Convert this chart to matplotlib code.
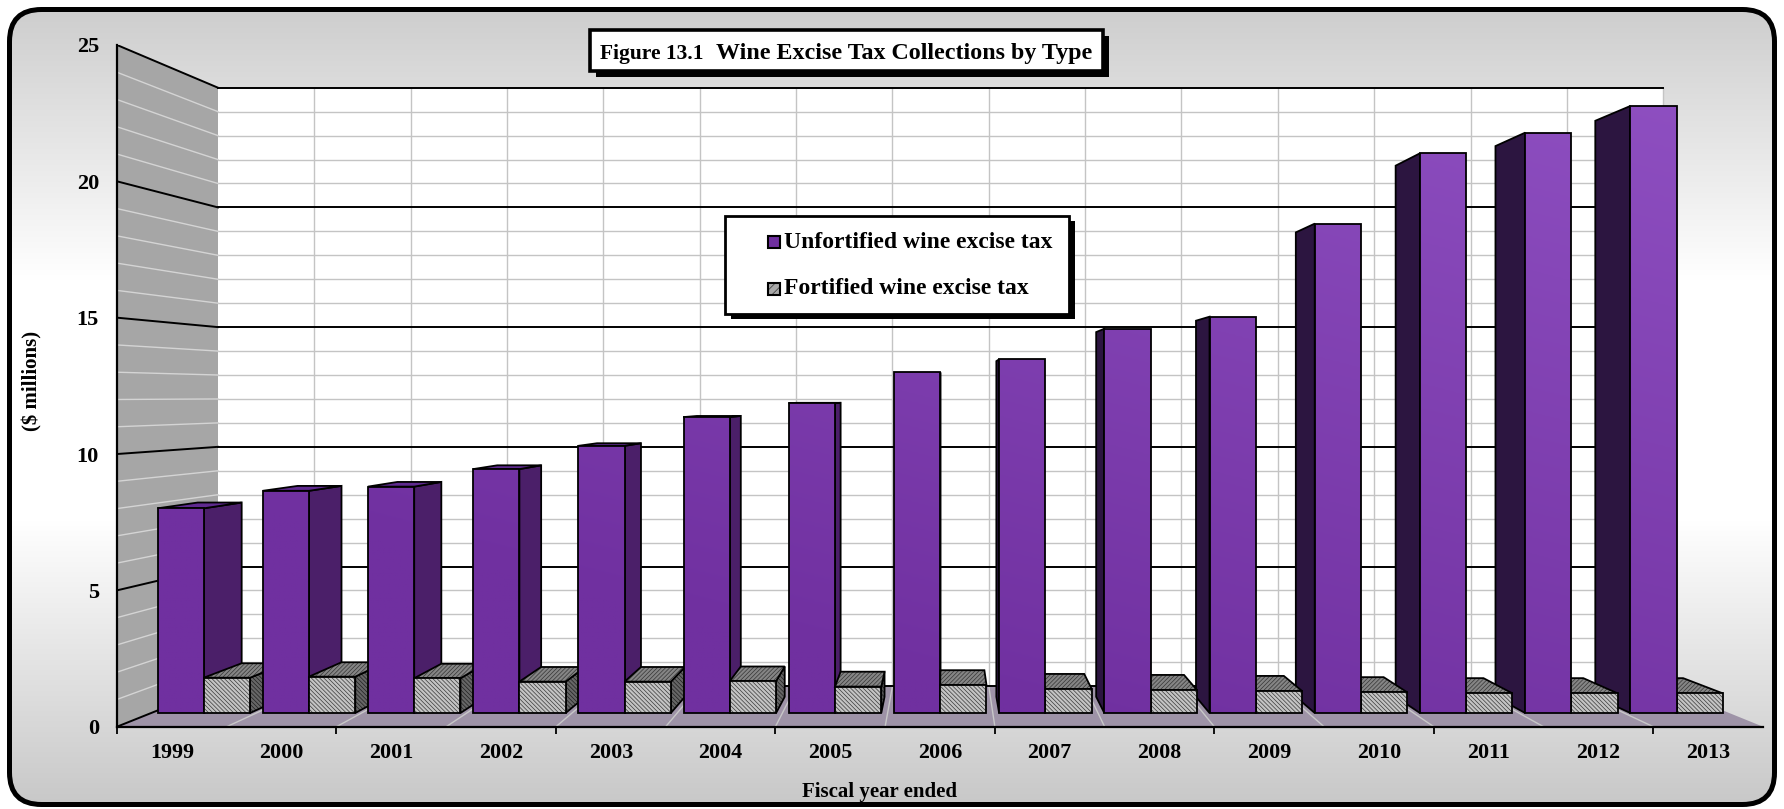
import numpy as np
import matplotlib.pyplot as plt
from matplotlib.patches import Polygon, Rectangle, FancyBboxPatch
from matplotlib.colors import to_rgb

# values ($ millions)
years = ['1999', '2000', '2001', '2002', '2003', '2004', '2005', '2006',
         '2007', '2008', '2009', '2010', '2011', '2012', '2013']
unfortified = [7.83, 8.50, 8.66, 9.33, 10.22, 11.32, 11.85, 13.04,
               13.53, 14.70, 15.16, 18.72, 21.41, 22.20, 23.22]
fortified = [1.35, 1.39, 1.33, 1.20, 1.20, 1.22, 1.01, 1.07,
             0.92, 0.88, 0.84, 0.79, 0.75, 0.75, 0.75]
series_names = ['Unfortified wine excise tax', 'Fortified wine excise tax']

# fake 3-D: points are pulled toward a vanishing point by a depth scale s
VPX, VPY = 7.545, 12.16
S_WALL, S_FRONT, S_BACK = 0.878, 0.9587, 0.9097
BAR_W = 0.44
YMAX = 25

PURPLE_LO = np.array(to_rgb('#7030A0'))
PURPLE_HI = np.array(to_rgb('#9152C4'))


def proj(x, y, s):
    return (VPX + s * (x - VPX), VPY + s * (y - VPY))


def quad(pts):
    return [proj(x, y, s) for x, y, s in pts]


plt.rcParams['font.family'] = ['Liberation Serif', 'DejaVu Serif']
plt.rcParams['font.weight'] = 'bold'
plt.rcParams['axes.labelweight'] = 'bold'
plt.rcParams['hatch.linewidth'] = 0.5

fig = plt.figure(figsize=(17.84, 8.09), dpi=100)

# ---- background panel (pixel coordinates) ----
bg = fig.add_axes([0, 0, 1, 1])
bg.set_xlim(0, 1784)
bg.set_ylim(809, 0)
bg.axis('off')

ys = np.arange(809)
stops_y = [0, 280, 520, 809]
stops_v = [0.80, 1.0, 1.0, 0.78]
shade = np.interp(ys, stops_y, stops_v)
grad = np.repeat(shade[:, None, None], 3, axis=2)
clip_box = FancyBboxPatch((9.5, 9.5), 1765, 795,
                          boxstyle='round,pad=0,rounding_size=32',
                          fc='none', ec='none')
bg.add_patch(clip_box)
im = bg.imshow(grad, extent=[0, 1784, 809, 0], aspect='auto')
im.set_clip_path(clip_box)
bg.add_patch(FancyBboxPatch((9.5, 9.5), 1765, 795,
                            boxstyle='round,pad=0,rounding_size=32',
                            fc='none', ec='black', lw=3.6, zorder=5))

# ---- plot axes: front plane in data units ----
ax = fig.add_axes([117 / 1784, (809 - 726.7) / 809, 1646 / 1784, 681.7 / 809])
ax.set_zorder(2)
ax.patch.set_visible(False)
n = len(years)

# walls and floor
ax.add_patch(Polygon(quad([(0, 0, 1), (0, YMAX, 1), (0, YMAX, S_WALL), (0, 0, S_WALL)]),
                     fc='#A6A6A6', ec='none', zorder=1))
ax.add_patch(Polygon(quad([(0, 0, S_WALL), (n, 0, S_WALL), (n, YMAX, S_WALL), (0, YMAX, S_WALL)]),
                     fc='white', ec='none', zorder=1))
ax.add_patch(Polygon(quad([(0, 0, 1), (n, 0, 1), (n, 0, S_WALL), (0, 0, S_WALL)]),
                     fc='#9E93A7', ec='none', zorder=1))

for k in range(1, n + 1):
    (x0, y0), (x1, y1) = proj(k, 0, S_WALL), proj(k, YMAX, S_WALL)
    ax.plot([x0, x1], [y0, y1], color='#C4C4C4', lw=1.0, zorder=2)
for k in range(1, n):
    (x0, y0), (x1, y1) = proj(k, 0, 1), proj(k, 0, S_WALL)
    ax.plot([x0, x1], [y0, y1], color='#C8C8C8', lw=1.0, zorder=2)
for v in range(YMAX + 1):
    major = v % 5 == 0
    col = 'black' if major else '#C4C4C4'
    lw = 1.4 if major else 1.0
    zo = 3 if major else 2
    (x0, y0), (x1, y1) = proj(0, v, S_WALL), proj(n, v, S_WALL)
    ax.plot([x0, x1], [y0, y1], color=col, lw=lw, zorder=zo)
    (x0, y0), (x1, y1) = proj(0, v, 1), proj(0, v, S_WALL)
    ax.plot([x0, x1], [y0, y1], color='black' if major else '#D4D4D4', lw=lw, zorder=zo)

# gradient for purple fronts
gx, gy = np.meshgrid(np.linspace(0, n, 300), np.linspace(0, YMAX, 300))
t = np.clip(gx / n * 0.5 + gy / YMAX * 0.8 - 0.3, 0, 1)
purple_img = PURPLE_LO + t[..., None] * (PURPLE_HI - PURPLE_LO)

bars = []
for i in range(n):
    c = i + 0.5
    bars.append((c - BAR_W, c, unfortified[i], 'u'))
    bars.append((c, c + BAR_W, fortified[i], 'f'))
bars.sort(key=lambda b: -abs((b[0] + b[1]) / 2 - VPX))


def hatched(pts, fc, hatch, z, hc='black'):
    ax.add_patch(Polygon(pts, fc=fc, ec=hc, lw=0, hatch=hatch, zorder=z))
    ax.add_patch(Polygon(pts, fill=False, ec='black', lw=1.3, zorder=z + 0.1))


z = 10
for x0, x1, v, kind in bars:
    side = None
    if x1 <= VPX:
        side = x1
        side_col = '#4B1F69'
    elif x0 >= VPX:
        side = x0
        side_col = '#2C1540'
    if side is not None:
        pts = quad([(side, 0, S_FRONT), (side, v, S_FRONT), (side, v, S_BACK), (side, 0, S_BACK)])
        if kind == 'u':
            ax.add_patch(Polygon(pts, fc=side_col, ec='black', lw=1.3, zorder=z))
        else:
            hatched(pts, '#666666', '\\' * 8, z, hc='#202020')
    if v < VPY:
        pts = quad([(x0, v, S_FRONT), (x1, v, S_FRONT), (x1, v, S_BACK), (x0, v, S_BACK)])
        if kind == 'u':
            ax.add_patch(Polygon(pts, fc='#5F2A8F', ec='black', lw=1.3, zorder=z + 0.5))
        else:
            hatched(pts, '#858585', '/' * 8, z + 0.5, hc='#353535')
    pts = quad([(x0, 0, S_FRONT), (x1, 0, S_FRONT), (x1, v, S_FRONT), (x0, v, S_FRONT)])
    if kind == 'u':
        face = Polygon(pts, fill=False, ec='black', lw=1.3, zorder=z + 1.1)
        ax.add_patch(face)
        img = ax.imshow(purple_img, extent=[0, n, 0, YMAX], origin='lower',
                        aspect='auto', zorder=z + 1)
        img.set_clip_path(face)
    else:
        hatched(pts, '#C4C4C4', '\\' * 8, z + 1, hc='#3A3A3A')
    z += 3

ax.set_xlim(0, n)
ax.set_ylim(0, YMAX)

# axes, ticks, labels
for side in ['top', 'right']:
    ax.spines[side].set_visible(False)
for side in ['left', 'bottom']:
    ax.spines[side].set_linewidth(1.6)
    ax.spines[side].set_zorder(200)
ax.set_yticks(range(0, YMAX + 1, 5))
ax.tick_params(axis='y', length=0, pad=13, labelsize=16)
ax.set_xticks(np.arange(0, n, 2))
ax.set_xticks(np.arange(n) + 0.5, minor=True)
ax.set_xticklabels(years, minor=True)
ax.tick_params(axis='x', which='major', length=5, width=1.3, labelbottom=False)
ax.tick_params(axis='x', which='minor', length=0, pad=12, labelsize=15.8)

ax.set_ylabel('($ millions)', fontsize=15, va='center')
ax.yaxis.set_label_coords(-0.0516, 0.507)
ax.set_xlabel('Fiscal year ended', fontsize=15, va='center')
ax.xaxis.set_label_coords(0.4635, -0.0958)

# ---- title box ----
bg.add_patch(Rectangle((596, 36), 513, 41, fc='black', zorder=6))
bg.add_patch(Rectangle((590, 30), 513, 41, fc='white', ec='black', lw=2.6, zorder=7))
bg.text(600, 59, 'Figure 13.1', fontsize=15.5, va='baseline', ha='left', zorder=8)
bg.text(716, 59, 'Wine Excise Tax Collections by Type', fontsize=17.3,
        va='baseline', ha='left', zorder=8)

# ---- legend ----
leg = fig.add_axes([0, 0, 1, 1])
leg.set_xlim(0, 1784)
leg.set_ylim(809, 0)
leg.axis('off')
leg.set_zorder(5)
leg.add_patch(Rectangle((731, 221), 344, 98, fc='black'))
leg.add_patch(Rectangle((725, 216), 344, 98, fc='white', ec='black', lw=2))
leg.add_patch(Rectangle((767.5, 236), 12, 12, fc='#7030A0', ec='black', lw=1.5))
leg.add_patch(Rectangle((767.5, 283), 12, 12, fc='#A8A8A8', ec='#333333', lw=0, hatch='////'))
leg.add_patch(Rectangle((767.5, 283), 12, 12, fill=False, ec='black', lw=1.5))
leg.text(784, 242, series_names[0], fontsize=17, va='center', ha='left')
leg.text(784, 289, series_names[1], fontsize=17, va='center', ha='left')

fig.savefig('out.png', dpi=100)
